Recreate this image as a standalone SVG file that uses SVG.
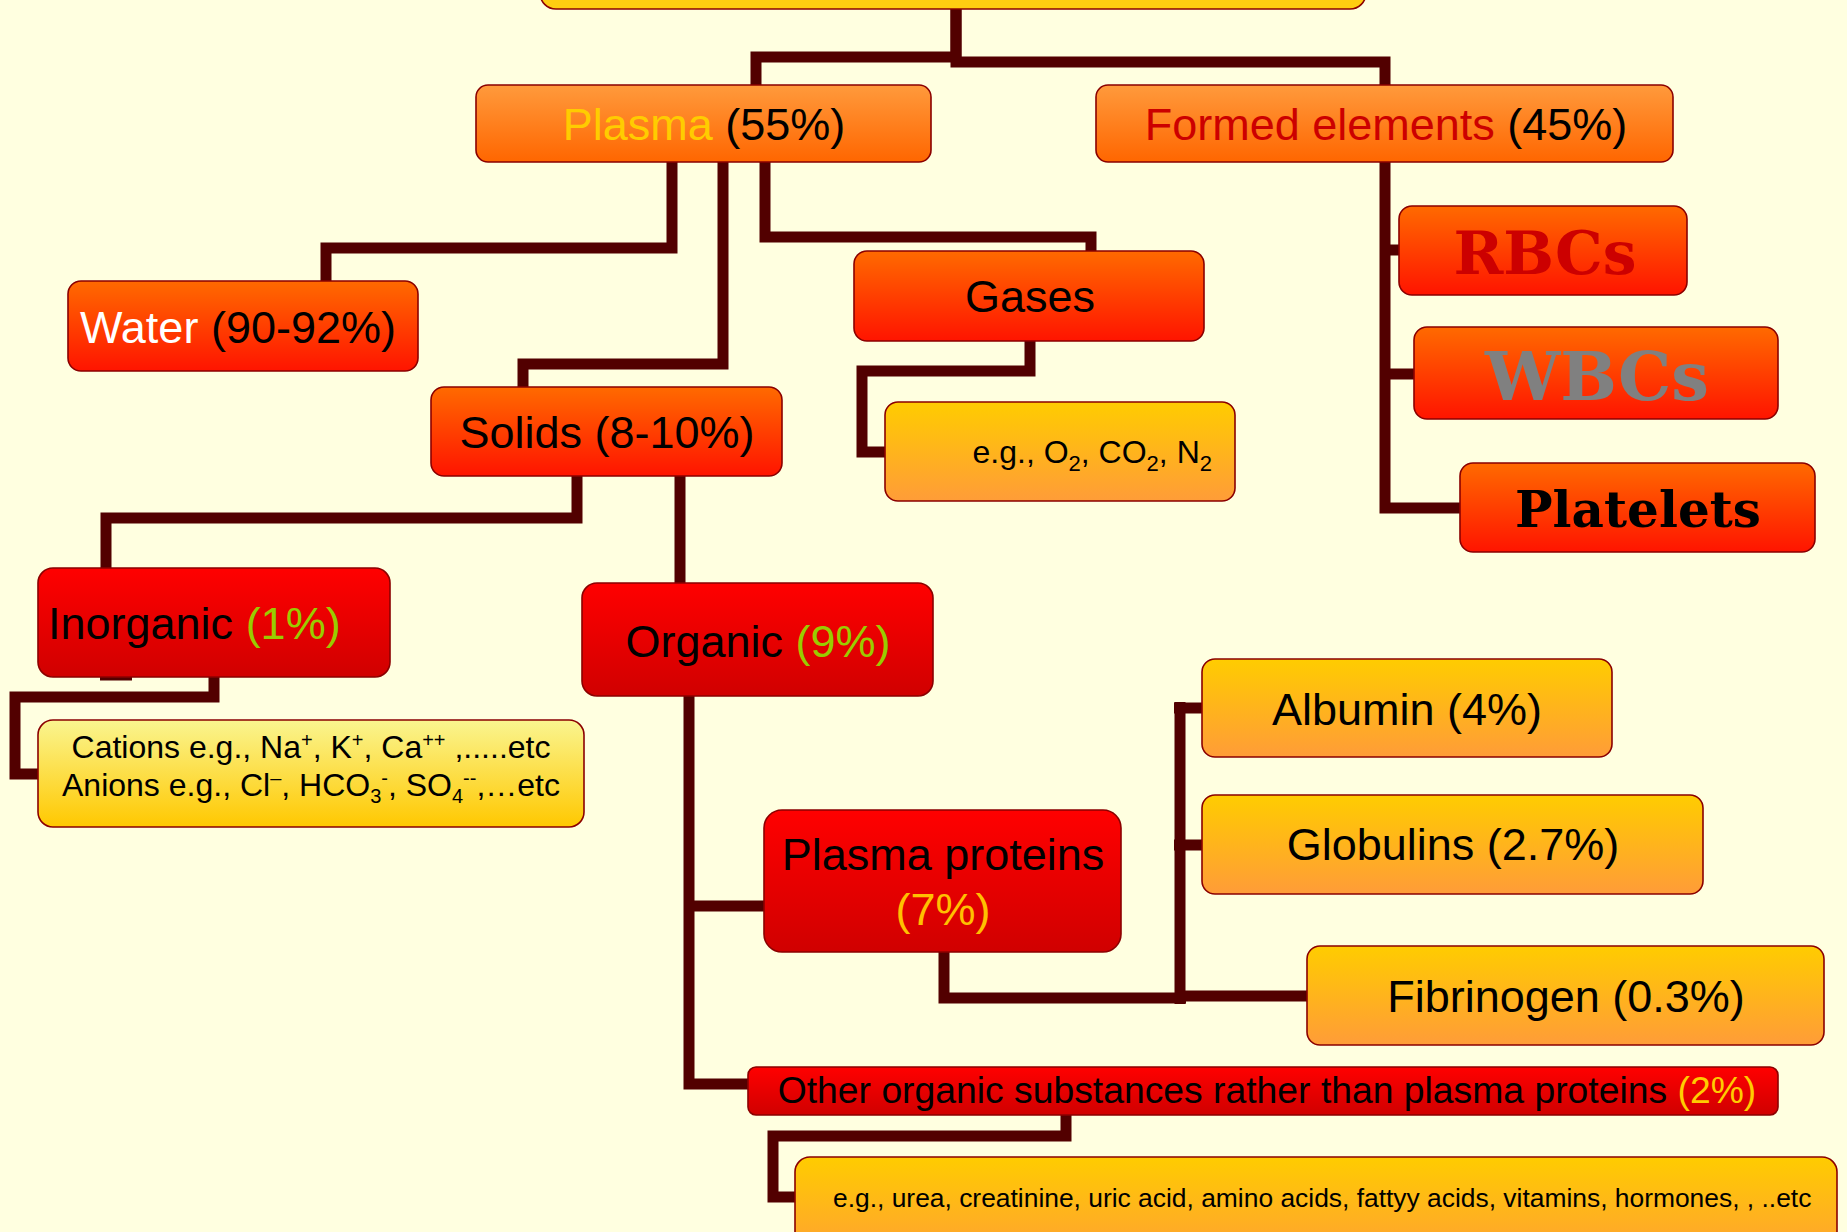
<svg xmlns="http://www.w3.org/2000/svg" width="1847" height="1232" viewBox="0 0 1847 1232">
<defs>
<linearGradient id="gOrange" x1="0" y1="0" x2="0" y2="1"><stop offset="0" stop-color="#FF9A3C"/><stop offset="1" stop-color="#FF6600"/></linearGradient>
<linearGradient id="gRedOrange" x1="0" y1="0" x2="0" y2="1"><stop offset="0" stop-color="#FF6A00"/><stop offset="1" stop-color="#FF1400"/></linearGradient>
<linearGradient id="gRed" x1="0" y1="0" x2="0" y2="1"><stop offset="0" stop-color="#FF0000"/><stop offset="1" stop-color="#D00000"/></linearGradient>
<linearGradient id="gYellow" x1="0" y1="0" x2="0" y2="1"><stop offset="0" stop-color="#FFCC00"/><stop offset="1" stop-color="#FF9C38"/></linearGradient>
<linearGradient id="gLight" x1="0" y1="0" x2="0" y2="1"><stop offset="0" stop-color="#FAF590"/><stop offset="1" stop-color="#FFC800"/></linearGradient>
</defs>
<style>
.box{stroke:#8B0000;stroke-width:1.6}
.t{font-family:"Liberation Sans",Arial,sans-serif;fill:#000}
.m{font-size:45px}
.slab{font-family:"DejaVu Serif","Liberation Serif",serif;font-weight:bold}
.conn{fill:none;stroke:#520000;stroke-width:11;stroke-linejoin:miter;stroke-linecap:butt}
</style>
<rect width="1847" height="1232" fill="#FFFFE0"/>
<g id="connectors" class="conn">
<path d="M956 9 V57 H756 V85"/>
<path d="M956 9 V62 H1385 V85"/>
<path d="M672 162 V248 H326 V281"/>
<path d="M723 162 V364 H523 V387"/>
<path d="M765 162 V237 H1091 V251"/>
<path d="M1030 341 V371 H862 V452 H885"/>
<path d="M1385 162 V508 H1460"/>
<path d="M1385 250 H1399"/>
<path d="M1385 374 H1414"/>
<path d="M577 476 V518 H106 V568"/>
<path d="M680 476 V583"/>
<path d="M214 677 V697 H15 V774 H38"/>
<path d="M100 678 H132" stroke-width="5"/>
<path d="M689 696 V1084 H748"/>
<path d="M689 906 H764"/>
<path d="M944 952 V998 H1186"/>
<path d="M1180 702 V1004"/>
<path d="M1174 708 H1202"/>
<path d="M1174 845 H1202"/>
<path d="M1180 996 H1307"/>
<path d="M1066 1115 V1136 H773 V1197 H795"/>
</g>
<g id="node-top"><rect class="box" x="540" y="-60" width="826" height="69" rx="16" fill="#FFCC11"/></g>
<g id="node-plasma"><rect class="box" x="476" y="85" width="455" height="77" rx="12" fill="url(#gOrange)"/>
<text class="t m" x="704" y="140" text-anchor="middle"><tspan fill="#FFCC00">Plasma</tspan> (55%)</text></g>
<g id="node-formed"><rect class="box" x="1096" y="85" width="577" height="77" rx="12" fill="url(#gOrange)"/>
<text class="t m" x="1386" y="140" text-anchor="middle"><tspan fill="#CC0000">Formed elements</tspan> (45%)</text></g>
<g id="node-water"><rect class="box" x="68" y="281" width="350" height="90" rx="13" fill="url(#gRedOrange)"/>
<text class="t m" x="238" y="343" text-anchor="middle"><tspan fill="#FFFFFF">Water</tspan> (90-92%)</text></g>
<g id="node-gases"><rect class="box" x="854" y="251" width="350" height="90" rx="13" fill="url(#gRedOrange)"/>
<text class="t m" x="1030" y="312" text-anchor="middle">Gases</text></g>
<g id="node-solids"><rect class="box" x="431" y="387" width="351" height="89" rx="13" fill="url(#gRedOrange)"/>
<text class="t m" x="607" y="448" text-anchor="middle">Solids (8-10%)</text></g>
<g id="node-gases-eg"><rect class="box" x="885" y="402" width="350" height="99" rx="13" fill="url(#gYellow)"/>
<text class="t" font-size="32" x="1212" y="463" text-anchor="end">e.g., O<tspan font-size="22" dy="8">2</tspan><tspan dy="-8">, CO</tspan><tspan font-size="22" dy="8">2</tspan><tspan dy="-8">, N</tspan><tspan font-size="22" dy="8">2</tspan></text></g>
<g id="node-rbcs"><rect class="box" x="1399" y="206" width="288" height="89" rx="13" fill="url(#gRedOrange)"/>
<text class="slab" font-size="60" x="1545" y="274" text-anchor="middle" fill="#CC0000">RBCs</text></g>
<g id="node-wbcs"><rect class="box" x="1414" y="327" width="364" height="92" rx="13" fill="url(#gRedOrange)"/>
<text class="slab" font-size="67" x="1597" y="400" text-anchor="middle" fill="#808080">WBCs</text></g>
<g id="node-platelets"><rect class="box" x="1460" y="463" width="355" height="89" rx="13" fill="url(#gRedOrange)"/>
<text class="slab" font-size="50" x="1638" y="527" text-anchor="middle" fill="#000">Platelets</text></g>
<g id="node-inorganic"><rect class="box" x="38" y="568" width="352" height="109" rx="15" fill="url(#gRed)"/>
<text class="t m" x="48" y="639"><tspan>Inorganic </tspan><tspan fill="#99CC00">(1%)</tspan></text></g>
<g id="node-organic"><rect class="box" x="582" y="583" width="351" height="113" rx="15" fill="url(#gRed)"/>
<text class="t m" x="758" y="657" text-anchor="middle">Organic <tspan fill="#99CC00">(9%)</tspan></text></g>
<g id="node-cations"><rect class="box" x="38" y="720" width="546" height="107" rx="15" fill="url(#gLight)"/>
<text class="t" font-size="32" x="311" y="758" text-anchor="middle">Cations e.g., Na<tspan font-size="20" dy="-11">+</tspan><tspan dy="11">, K</tspan><tspan font-size="20" dy="-11">+</tspan><tspan dy="11">, Ca</tspan><tspan font-size="20" dy="-11">++</tspan><tspan dy="11"> ,.....etc</tspan></text>
<text class="t" font-size="32" x="311" y="796" text-anchor="middle">Anions e.g., Cl<tspan font-size="20" dy="-11">–</tspan><tspan dy="11">, HCO</tspan><tspan font-size="20" dy="7">3</tspan><tspan font-size="20" dy="-18">-</tspan><tspan dy="11">, SO</tspan><tspan font-size="20" dy="7">4</tspan><tspan font-size="20" dy="-18">--</tspan><tspan dy="11">,…etc</tspan></text></g>
<g id="node-albumin"><rect class="box" x="1202" y="659" width="410" height="98" rx="13" fill="url(#gYellow)"/>
<text class="t m" x="1407" y="725" text-anchor="middle">Albumin (4%)</text></g>
<g id="node-globulins"><rect class="box" x="1202" y="795" width="501" height="99" rx="13" fill="url(#gYellow)"/>
<text class="t m" x="1453" y="860" text-anchor="middle">Globulins (2.7%)</text></g>
<g id="node-plasma-proteins"><rect class="box" x="764" y="810" width="357" height="142" rx="18" fill="url(#gRed)"/>
<text class="t m" x="943" y="870" text-anchor="middle">Plasma proteins</text>
<text class="t m" x="943" y="925" text-anchor="middle"><tspan fill="#FFC000">(7%)</tspan></text></g>
<g id="node-fibrinogen"><rect class="box" x="1307" y="946" width="517" height="99" rx="13" fill="url(#gYellow)"/>
<text class="t m" x="1566" y="1012" text-anchor="middle">Fibrinogen (0.3%)</text></g>
<g id="node-other"><rect class="box" x="748" y="1067" width="1030" height="48" rx="8" fill="url(#gRed)"/>
<text class="t" font-size="37.3" x="1267" y="1103" text-anchor="middle">Other organic substances rather than plasma proteins <tspan fill="#FFCC00">(2%)</tspan></text></g>
<g id="node-other-eg"><rect class="box" x="795" y="1157" width="1042" height="110" rx="15" fill="url(#gYellow)"/>
<text class="t" font-size="26.4" x="833" y="1207">e.g., urea, creatinine, uric acid, amino acids, fattyy acids, vitamins, hormones, , ..etc</text></g>
</svg>
